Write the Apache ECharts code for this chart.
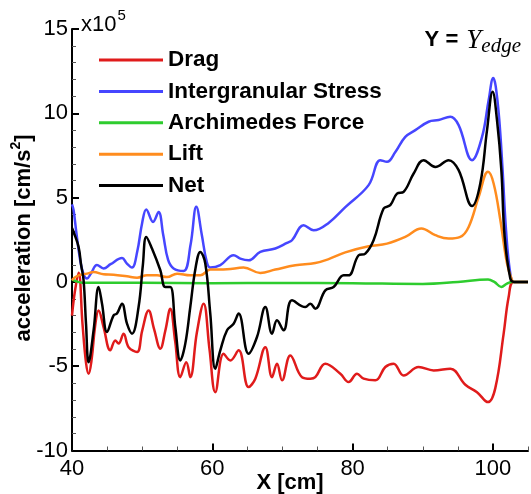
<!DOCTYPE html>
<html>
<head>
<meta charset="utf-8">
<script src="https://cdn.jsdelivr.net/npm/echarts@6/dist/echarts.min.js"></script>
<style>
  html, body { margin: 0; padding: 0; background: #fff; }
  #chart { width: 531px; height: 494px; }
</style>
</head>
<body>
<div id="chart"></div>
<script>
// values in units of 1e5 cm/s^2, x in cm
const drag = [[40.0,-2.0],[40.4,-0.6],[40.94,0.55],[41.5,-2.5],[42.0,-4.8],[42.37,-5.45],[42.8,-4.6],[43.3,-2.6],[43.79,-1.69],[44.5,-2.68],[45.46,-4.06],[46.17,-3.47],[46.64,-3.66],[47.36,-3.07],[48.07,-3.87],[49.27,-4.16],[50.0,-2.9],[50.92,-1.69],[51.7,-2.8],[52.59,-3.96],[53.3,-2.9],[54.01,-1.59],[54.7,-3.5],[55.44,-5.65],[56.29,-4.76],[56.86,-5.65],[57.8,-3.0],[58.76,-1.29],[59.6,-4.0],[60.43,-6.54],[61.61,-4.26],[62.57,-4.66],[63.75,-4.06],[65.17,-6.24],[66.13,-5.74],[67.56,-3.87],[68.51,-5.65],[69.22,-4.85],[69.94,-5.84],[71.12,-4.36],[72.79,-5.65],[73.97,-5.74],[74.68,-5.65],[76.11,-4.85],[78.25,-5.45],[79.43,-5.94],[80.63,-5.45],[81.57,-5.74],[83.24,-5.84],[84.66,-5.05],[85.84,-4.85],[87.27,-5.55],[89.41,-5.05],[91.55,-5.25],[93.93,-5.15],[96.07,-6.1],[97.73,-6.54],[99.3,-7.13],[100.34,-6.3],[101.52,-3.1],[102.24,-0.9],[102.95,0],[105,0]];

const stress = [[40.0,4.6],[40.23,4.25],[40.6,3.0],[41.2,1.2],[41.7,0.4],[42.14,0.2],[42.7,0.5],[43.56,1.0],[44.5,0.8],[45.5,1.05],[47.13,1.42],[47.8,1.1],[48.55,0.85],[49.3,1.8],[50.0,3.5],[50.59,4.3],[51.55,3.56],[52.34,4.15],[53.0,2.8],[53.7,1.3],[54.48,0.8],[55.91,0.65],[56.9,2.2],[57.72,4.45],[58.5,2.8],[59.2,1.2],[59.71,0.85],[61.14,1.0],[63.04,1.58],[63.99,1.38],[65.17,1.28],[66.84,1.78],[68.98,1.98],[70.65,2.31],[71.36,2.47],[73.01,3.36],[74.44,3.06],[76.58,3.5],[79.0,4.45],[82.28,5.74],[83.95,7.22],[84.9,7.12],[86.09,7.71],[87.51,8.6],[88.94,9.0],[90.83,9.5],[92.26,9.6],[93.93,9.79],[95.11,9.3],[97.02,7.22],[98.45,8.6],[99.4,10.8],[100.05,12.1],[100.4,11.6],[100.91,9.6],[101.38,6.63],[101.87,3.06],[102.48,0.49],[103,0],[105,0]];

const archimedes = [[40.0,0.15],[40.5,0.05],[41.5,-0.05],[50,-0.05],[60,-0.08],[70,-0.06],[80,-0.08],[90,-0.12],[95,0.0],[99.3,0.14],[100.2,0.0],[101.2,-0.3],[102.0,-0.1],[102.72,0],[105,0]];

const lift = [[40.0,0.1],[40.23,0.2],[40.94,0.39],[42.14,0.49],[43.08,0.59],[44.5,0.45],[45.93,0.43],[47.84,0.33],[49.27,0.25],[50.69,0.39],[52.12,0.39],[53.54,0.29],[54.97,0.49],[56.86,0.39],[58.29,0.39],[59.71,0.73],[62.1,0.75],[64.46,0.85],[66.84,0.53],[68.98,0.73],[71.83,0.99],[74.68,1.12],[76.58,1.35],[78.96,1.75],[82.28,2.11],[84.9,2.27],[87.51,2.67],[89.8,3.17],[91.79,2.77],[93.69,2.57],[95.35,2.67],[96.54,3.26],[97.97,5.04],[99.3,6.53],[100.1,5.84],[101.06,3.66],[102.01,1.09],[102.72,0.1],[103,0],[105,0]];

const net = [[40.0,3.2],[40.23,2.96],[40.94,2.07],[41.3,1.0],[41.65,0.1],[42.0,-2.5],[42.37,-4.76],[43.08,-2.87],[43.79,-0.3],[44.28,-1.29],[44.99,-2.97],[45.93,-1.98],[46.41,-1.88],[47.13,-1.29],[47.84,-2.48],[48.55,-3.07],[49.49,-1.49],[50.1,1.0],[50.59,2.67],[51.4,1.98],[52.59,0.69],[53.3,-0.3],[54.01,-0.3],[54.73,-2.68],[55.44,-4.66],[56.15,-3.66],[56.86,-1.49],[57.6,0.8],[58.29,1.78],[59.0,1.09],[59.71,-1.88],[60.43,-5.15],[61.14,-4.06],[62.1,-2.87],[63.04,-2.48],[63.75,-1.88],[65.17,-4.26],[66.37,-3.27],[67.56,-1.49],[68.51,-3.07],[69.22,-2.28],[70.16,-2.87],[71.36,-1.09],[73.26,-1.49],[73.97,-1.29],[74.68,-1.59],[76.11,-0.5],[77.29,-0.3],[78.72,0.39],[79.43,0.39],[80.86,1.58],[81.81,1.68],[82.99,2.47],[84.42,4.35],[85.37,4.55],[86.33,5.24],[87.27,5.34],[88.7,6.43],[90.12,7.22],[91.79,6.82],[93.69,7.22],[95.11,6.63],[97.02,4.5],[98.2,5.84],[99.16,9.0],[99.96,11.28],[100.58,9.6],[101.2,6.63],[101.67,2.67],[102.48,0.2],[103,0],[105,0]];

const seriesNames = ['Drag', 'Intergranular Stress', 'Archimedes Force', 'Lift', 'Net'];
const seriesColors = ['#e01b1b', '#4646ff', '#2ecc2e', '#ff8c1e', '#000000'];
const seriesData = [drag, stress, archimedes, lift, net];
const xTicks = [40, 60, 80, 100];

const FONT = 'Liberation Sans, Arial, Helvetica, sans-serif';
const SERIF = 'Liberation Serif, DejaVu Serif, serif';
const chart = echarts.init(document.getElementById('chart'), null, { renderer: 'canvas' });

const option = {
    animation: false,
    backgroundColor: '#fff',
    grid: { left: 72, right: 3, top: 29, bottom: 43.5 },
    legend: {
        orient: 'vertical',
        left: 94,
        top: 43,
        icon: 'rect',
        itemWidth: 64,
        itemHeight: 3,
        itemGap: 7.4,
        data: seriesNames,
        textStyle: { fontSize: 22.5, fontWeight: 'bold', color: '#000', fontFamily: FONT, lineHeight: 24 }
    },
    xAxis: [
        {
            type: 'value', min: 40, max: 105, interval: 5, position: 'bottom',
            axisLine: { onZero: false, lineStyle: { color: '#000', width: 2 } },
            axisTick: { inside: true, length: 4, lineStyle: { color: '#555', width: 1 } },
            axisLabel: { show: false },
            splitLine: { show: false }
        },
        {
            type: 'value', min: 40, max: 105, position: 'bottom',
            axisLine: { show: false, onZero: false },
            axisTick: { inside: true, length: 7, customValues: xTicks, lineStyle: { color: '#000', width: 2 } },
            axisLabel: { customValues: xTicks, fontSize: 22, color: '#000', margin: 7, fontFamily: FONT },
            splitLine: { show: false }
        }
    ],
    yAxis: {
        type: 'value', min: -10, max: 15, interval: 5,
        axisLine: { show: true, onZero: false, lineStyle: { color: '#000', width: 2 } },
        axisTick: { inside: true, length: 7, lineStyle: { color: '#000', width: 2 } },
        minorTick: { show: true, splitNumber: 5, length: 4, lineStyle: { color: '#555', width: 1 } },
        axisLabel: { fontSize: 22, color: '#000', margin: 4, fontFamily: FONT },
        splitLine: { show: false }
    },
    series: seriesNames.map((name, i) => ({
        name,
        type: 'line',
        xAxisIndex: 0,
        data: seriesData[i],
        smooth: 0.4,
        symbol: 'none',
        clip: true,
        lineStyle: { width: 2.5, color: seriesColors[i] },
        itemStyle: { color: seriesColors[i] }
    })),
    graphic: [
        {
            type: 'text', x: 22, y: 238, rotation: Math.PI / 2,
            style: {
                text: '{a|acceleration [cm/s}{s|2}{a|]}',
                align: 'center', verticalAlign: 'middle',
                rich: {
                    a: { fontSize: 22, fontWeight: 'bold', fontFamily: FONT, fill: '#000', verticalAlign: 'bottom' },
                    s: { fontSize: 14, fontWeight: 'bold', fontFamily: FONT, fill: '#000', verticalAlign: 'top', padding: [0, 0, 12, 0] }
                }
            }
        },
        {
            type: 'text', x: 290, y: 483,
            style: { text: 'X [cm]', align: 'center', verticalAlign: 'middle', fontSize: 22, fontWeight: 'bold', fontFamily: FONT, fill: '#000' }
        },
        {
            type: 'text', x: 81, y: 22,
            style: {
                text: '{a|x10}{s|5}',
                align: 'left', verticalAlign: 'middle',
                rich: {
                    a: { fontSize: 22, fontFamily: FONT, fill: '#000', verticalAlign: 'bottom' },
                    s: { fontSize: 15, fontFamily: FONT, fill: '#000', verticalAlign: 'top', padding: [0, 0, 13, 1] }
                }
            }
        },
        {
            type: 'text', x: 521, y: 42,
            style: {
                text: '{a|Y = }{b|Y}{c|edge}',
                align: 'right', verticalAlign: 'middle',
                rich: {
                    a: { fontSize: 22, fontWeight: 'bold', fontFamily: FONT, fill: '#000', verticalAlign: 'top', padding: [2, 2, 0, 0] },
                    b: { fontSize: 27, fontStyle: 'italic', fontFamily: SERIF, fill: '#000', verticalAlign: 'top' },
                    c: { fontSize: 21, fontStyle: 'italic', fontFamily: SERIF, fill: '#000', verticalAlign: 'bottom', padding: [9, 0, 0, 0] }
                }
            }
        }
    ]
};

chart.setOption(option);
</script>
</body>
</html>
